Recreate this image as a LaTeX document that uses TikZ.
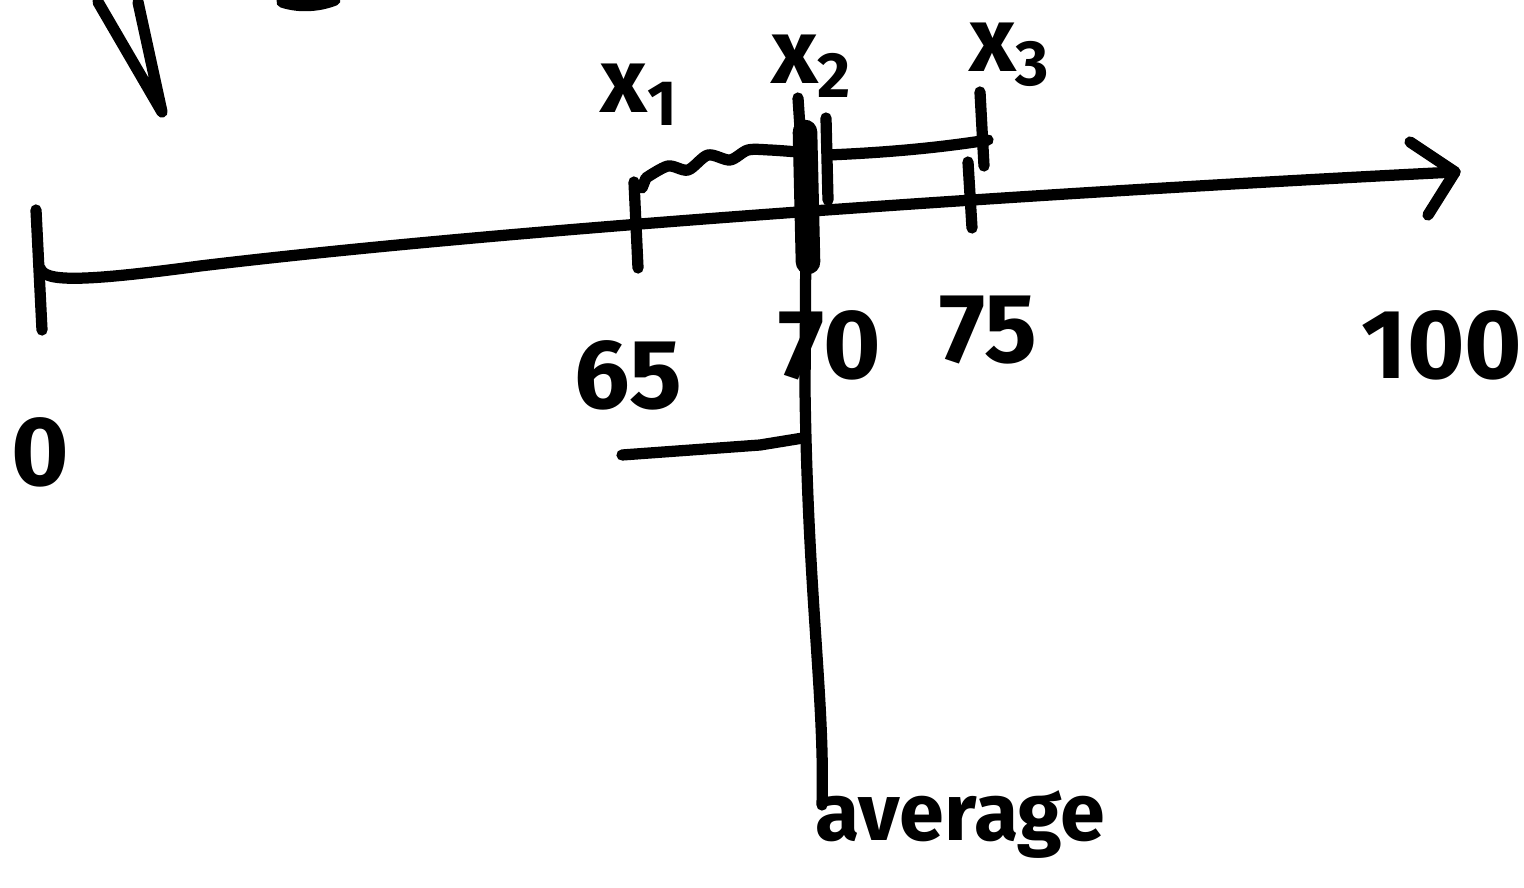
\documentclass[tikz,border=0pt]{standalone}
\usepackage{fontspec}
\setmainfont{Fira Sans}
\usetikzlibrary{positioning}

\begin{document}
\begin{tikzpicture}[x=0.01cm,y=-0.01cm,line cap=round,line join=round,
    ink/.style={line width=3.2pt},
    heavy/.style={line width=7pt},
    hand/.style={font=\fontsize{28}{30}\selectfont\bfseries,inner sep=0pt},
    lab/.style={font=\fontsize{26}{28}\selectfont\bfseries,inner sep=0pt}]
    \useasboundingbox (0,0) rectangle (1524,888);

    % partial strokes at the top edge
    \draw[ink] (98,2) -- (162,112) -- (138,2);
    \draw[ink] (282,2) .. controls (300,8) and (320,6) .. (335,0);

    % number line
    \coordinate (start) at (40,268);
    \coordinate (end) at (1455,172);
    \draw[ink] (start) .. controls (44,282) and (80,282) .. (200,266)
        .. controls (500,230) and (1000,195) .. (end);
    \draw[ink] (1410,142) -- (end) -- (1428,215);
    \draw[ink] (36,210) -- (42,330);

    % ticks
    \coordinate (t65) at (636,222);
    \coordinate (t70) at (806,210);
    \coordinate (t75) at (970,200);
    \draw[ink] (634,182) -- (638,268);
    \draw[heavy] (805,132) -- (808,262);
    \draw[ink] (968,162) -- (972,228);
    \draw[ink] (798,98) -- (800,128);
    \draw[ink] (826,118) -- (828,200);
    \draw[ink] (980,92) -- (984,166);

    % brackets
    \draw[ink] (642,188) -- (646,178)
        plot[smooth] coordinates {(646,178) (668,166) (688,170) (708,155) (730,160) (748,150) (770,150) (798,152)};
    \draw[ink] (828,155) .. controls (900,152) and (950,146) .. (988,140);

    % values
    \node[hand] (v0) at (40,452) {0};
    \node[hand] (v65) at (628,375) {65};
    \node[hand] (v70) at (830,345) {70};
    \node[hand] (v75) at (988,330) {75};
    \node[hand] (v100) at (1442,345) {100};

    % labels
    \node[lab] (x1) at (640,95) {x\textsubscript{1}};
    \node[lab] (x2) at (812,66) {x\textsubscript{2}};
    \node[lab] (x3) at (1010,55) {x\textsubscript{3}};

    % average pointer
    \node[hand,font=\fontsize{23}{25}\selectfont\bfseries,anchor=north west] (avg) at (815,790) {average};
    \draw[ink] (t70) -- (805,390) .. controls (808,600) and (825,700) .. (822,805);
    \draw[ink] (622,455) -- (760,445) -- (803,438);
\end{tikzpicture}
\end{document}
